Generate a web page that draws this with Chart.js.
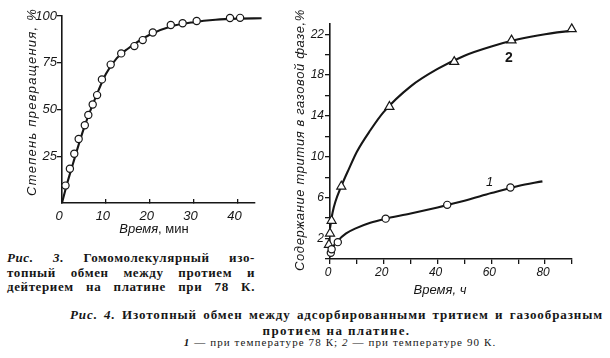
<!DOCTYPE html>
<html>
<head>
<meta charset="utf-8">
<script src="https://cdn.jsdelivr.net/npm/chart.js@4.4.1/dist/chart.umd.min.js"></script>
<style>
  body { margin: 0; background: #fff; width: 610px; height: 358px; position: relative; overflow: hidden; color: #161616; }
  canvas { position: absolute; top: 0; }
  #fig3 { left: 0; }
  #fig4 { left: 280px; }
  .cap { position: absolute; font-family: "Liberation Serif", "DejaVu Serif", serif; white-space: nowrap; }
  .j { text-align: justify; text-align-last: justify; }
  #cap3 { left: 7px; top: 251px; width: 248px; font-size: 13px; line-height: 14.5px; font-weight: bold; letter-spacing: 0.6px; }
  #cap4a { left: 70px; top: 307px; width: 533px; font-size: 13px; line-height: 15px; font-weight: bold; letter-spacing: 0.9px; }
  #cap4b { left: 70px; top: 323px; width: 533px; font-size: 13px; line-height: 15px; font-weight: bold; letter-spacing: 1.4px; text-align: center; }
  #cap4c { left: 70px; top: 336px; width: 540px; font-size: 11px; line-height: 13px; letter-spacing: 1.1px; text-align: center; }
</style>
</head>
<body>
<canvas id="fig3" width="280" height="245"></canvas>
<canvas id="fig4" width="330" height="305"></canvas>

<div class="cap" id="cap3">
  <div class="j"><i>Рис. 3.</i> Гомомолекулярный изо-</div>
  <div class="j">топный обмен между протием и</div>
  <div class="j">дейтерием на платине при 78 К.</div>
</div>
<div class="cap j" id="cap4a"><i>Рис. 4.</i> Изотопный обмен между адсорбированными тритием и газообразным</div>
<div class="cap" id="cap4b">протием на платине.</div>
<div class="cap" id="cap4c"><i><b>1</b></i> — при температуре 78 К; <i>2</i> — при температуре 90 К.</div>

<script>
// ---- Рис. 3: степень превращения, % vs время, мин
const fig3Time = [0.8, 1.8, 2.8, 3.8, 5.2, 6.0, 7.0, 8.0, 9.1, 11.1, 13.5, 16.5, 18.4, 20.7, 24.8, 27.5, 30.7, 38.3, 40.6];
const fig3Conv = [9.3, 18.3, 26.3, 34.2, 41.6, 47.1, 52.7, 57.7, 66.1, 74.0, 80.0, 83.9, 87.1, 91.2, 95.2, 96.1, 97.3, 98.9, 99.0];
const fig3CurveTime = [0, 1, 2.5, 5, 7.5, 10, 12.5, 15, 20, 25, 30, 35, 40, 45.5];
const fig3CurveConv = [0, 9, 21, 40, 55.5, 69, 77.5, 82.5, 90, 94.5, 96.7, 98, 98.6, 98.8];
const fig3XTicks = [0, 10, 20, 30, 40];
const fig3YTicks = [25, 50, 75, 100];

// ---- Рис. 4: содержание трития в газовой фазе, % vs время, ч
const fig4Time1 = [0.3, 0.6, 2.9, 20.7, 43.6, 67.1];
const fig4Tritium1 = [0.6, 0.95, 1.65, 3.95, 5.3, 7.0];
const fig4Time2 = [-1.3, -0.4, 0, 0.6, 4.2, 22.1, 46.2, 67.5, 89.9];
const fig4Tritium2 = [0.65, 1.4, 2.5, 3.75, 7.1, 14.9, 19.3, 21.4, 22.5];
const fig4CurveTime1 = [0, 1, 3, 6, 10, 15, 20, 30, 40, 50, 60, 70, 79];
const fig4CurveTritium1 = [0.3, 1.1, 1.8, 2.5, 3.05, 3.55, 3.9, 4.45, 5.05, 5.7, 6.45, 7.15, 7.6];
const fig4CurveTime2 = [0, 1, 2, 4, 7, 10, 15, 20, 30, 40, 50, 60, 70, 80, 90, 96];
const fig4CurveTritium2 = [3.0, 4.6, 5.6, 7.0, 8.8, 10.5, 12.6, 14.4, 16.9, 18.6, 19.9, 20.8, 21.5, 22.0, 22.35, 22.5];
const fig4XTickMarks = [0, 10, 20, 30, 40, 50, 60, 70, 80, 90];
const fig4XLabels = [0, 20, 40, 60, 80];
const fig4YTickMarks = [0, 2, 4, 6, 8, 10, 12, 14, 16, 18, 20, 22];
const fig4YLabels = [2, 6, 10, 14, 18, 22];
const fig4SeriesNames = ['1', '2'];
const fig4NamePos = [[59.4, 7.5], [66.5, 19.7]];

const INK = '#161616';
const SANS = '"Liberation Sans", Arial, sans-serif';

const toXY = (xs, ys) => xs.map((x, i) => ({ x, y: ys[i] }));

// ------------------------------------------------------------
// text plugin: axis titles (letter-spaced) and curve names
// ------------------------------------------------------------
function textPlugin(items) {
  return {
    id: 'figText',
    afterDraw(chart) {
      const { ctx, chartArea: a, scales } = chart;
      items.forEach(it => {
        ctx.save();
        ctx.fillStyle = INK;
        ctx.textBaseline = 'middle';
        let x, y, rot = 0;
        if (it.kind === 'yTitle') {
          x = a.left - it.offset;
          y = (a.top + a.bottom) / 2 + (it.shift || 0);
          rot = -Math.PI / 2;
        } else if (it.kind === 'xTitle') {
          x = (a.left + a.right) / 2 + (it.shift || 0);
          y = a.bottom + it.offset;
        } else {
          x = scales.x.getPixelForValue(it.at[0]);
          y = scales.y.getPixelForValue(it.at[1]);
        }
        ctx.translate(x, y);
        ctx.rotate(rot);

        // measure runs
        let total = 0, chars = 0;
        it.runs.forEach(r => {
          ctx.font = r.font;
          ctx.letterSpacing = '0px';
          total += ctx.measureText(r.text).width;
          chars += r.text.length;
        });
        let sp = 0;
        if (it.length && chars > 1) sp = Math.max(0, (it.length - total) / chars);
        const width = total + sp * chars;
        let cx = -width / 2;
        ctx.textAlign = 'left';
        it.runs.forEach(r => {
          ctx.font = r.font;
          ctx.letterSpacing = sp + 'px';
          ctx.fillText(r.text, cx, 0);
          ctx.letterSpacing = '0px';
          cx += ctx.measureText(r.text).width + sp * r.text.length;
        });
        ctx.restore();
      });
    }
  };
}

function axisBase(extra) {
  return Object.assign({
    type: 'linear',
    border: { display: true, color: INK, width: 1.6 },
    grid: { display: true, drawOnChartArea: false, drawTicks: true, color: INK, lineWidth: 1.3 },
    ticks: { color: INK, font: { family: SANS, size: 13, style: 'italic' }, maxRotation: 0, autoSkip: false }
  }, extra);
}

const markerStyle = {
  showLine: false,
  pointBackgroundColor: '#fff',
  pointBorderColor: INK,
  pointBorderWidth: 1.2,
  pointRadius: 3.6,
  pointHoverRadius: 3.6,
  clip: false,
  order: 0
};
const curveStyle = {
  showLine: true,
  borderColor: INK,
  borderWidth: 2.1,
  pointRadius: 0,
  cubicInterpolationMode: 'monotone',
  clip: false,
  order: 1
};

// ---- Рис. 3
new Chart(document.getElementById('fig3'), {
  type: 'scatter',
  data: {
    datasets: [
      Object.assign({ label: 'точки', data: toXY(fig3Time, fig3Conv), pointStyle: 'circle' }, markerStyle),
      Object.assign({ label: 'кривая', data: toXY(fig3CurveTime, fig3CurveConv) }, curveStyle)
    ]
  },
  options: {
    responsive: false,
    animation: false,
    layout: { padding: { left: 0, top: 16, right: 25, bottom: 0 } },
    plugins: { legend: { display: false }, tooltip: { enabled: false } },
    scales: {
      x: axisBase({
        min: 0, max: 44,
        afterBuildTicks: s => { s.ticks = fig3XTicks.map(v => ({ value: v })); },
        afterFit: s => { s.height = 42; },
        grid: { display: true, drawOnChartArea: false, drawTicks: true, tickLength: -4, color: INK, lineWidth: 1.3 },
        ticks: { color: INK, font: { family: SANS, size: 13, style: 'italic' }, padding: 10, labelOffset: -3, maxRotation: 0 }
      }),
      y: axisBase({
        min: 0, max: 100,
        afterBuildTicks: s => { s.ticks = fig3YTicks.map(v => ({ value: v })); },
        afterFit: s => { s.width = 62; },
        grid: { display: true, drawOnChartArea: false, drawTicks: true, tickLength: 5, color: INK, lineWidth: 1.3 },
        ticks: { color: INK, font: { family: SANS, size: 13, style: 'italic' }, padding: 0 }
      })
    }
  },
  plugins: [textPlugin([
    { kind: 'yTitle', offset: 29.5, shift: -7.5, length: 188,
      runs: [{ text: 'Степень превращения, %', font: `italic 13px ${SANS}` }] },
    { kind: 'xTitle', offset: 26, shift: -4.5,
      runs: [{ text: 'Время', font: `italic 13px ${SANS}` }, { text: ', мин', font: `13px ${SANS}` }] }
  ])]
});

// ---- Рис. 4
new Chart(document.getElementById('fig4'), {
  type: 'scatter',
  data: {
    datasets: [
      Object.assign({ label: fig4SeriesNames[0], data: toXY(fig4Time1, fig4Tritium1), pointStyle: 'circle' }, markerStyle),
      Object.assign({ label: fig4SeriesNames[1], data: toXY(fig4Time2, fig4Tritium2), pointStyle: 'triangle' }, markerStyle, { pointRadius: 5.2 }),
      Object.assign({ label: 'кривая 1', data: toXY(fig4CurveTime1, fig4CurveTritium1) }, curveStyle),
      Object.assign({ label: 'кривая 2', data: toXY(fig4CurveTime2, fig4CurveTritium2) }, curveStyle)
    ]
  },
  options: {
    responsive: false,
    animation: false,
    layout: { padding: { left: 0, top: 24, right: 38, bottom: 0 } },
    plugins: { legend: { display: false }, tooltip: { enabled: false } },
    scales: {
      x: axisBase({
        min: 0, max: 90,
        afterBuildTicks: s => { s.ticks = fig4XTickMarks.map(v => ({ value: v })); },
        afterFit: s => { s.height = 46; },
        grid: { display: true, drawOnChartArea: false, drawTicks: true, tickLength: 5, color: INK, lineWidth: 1.3 },
        ticks: {
          color: INK, font: { family: SANS, size: 12, style: 'italic' }, padding: 1.5, labelOffset: -2, maxRotation: 0,
          callback: v => fig4XLabels.includes(v) ? String(v) : ''
        }
      }),
      y: axisBase({
        min: 0, max: 23,
        afterBuildTicks: s => { s.ticks = fig4YTickMarks.map(v => ({ value: v })); },
        afterFit: s => { s.width = 50; },
        grid: { display: true, drawOnChartArea: false, drawTicks: true, tickLength: 5, color: INK, lineWidth: 1.3 },
        ticks: {
          color: INK, font: { family: SANS, size: 12, style: 'italic' }, padding: 1,
          callback: v => fig4YLabels.includes(v) ? String(v) : ''
        }
      })
    }
  },
  plugins: [textPlugin([
    { kind: 'yTitle', offset: 30, shift: -1.5, length: 262,
      runs: [{ text: 'Содержание трития в газовой фазе,%', font: `italic 13px ${SANS}` }] },
    { kind: 'xTitle', offset: 31, shift: -11,
      runs: [{ text: 'Время, ч', font: `italic 13px ${SANS}` }] },
    { kind: 'data', at: fig4NamePos[0], runs: [{ text: fig4SeriesNames[0], font: `italic 13px ${SANS}` }] },
    { kind: 'data', at: fig4NamePos[1], runs: [{ text: fig4SeriesNames[1], font: `bold 14px ${SANS}` }] }
  ])]
});
</script>
</body>
</html>
